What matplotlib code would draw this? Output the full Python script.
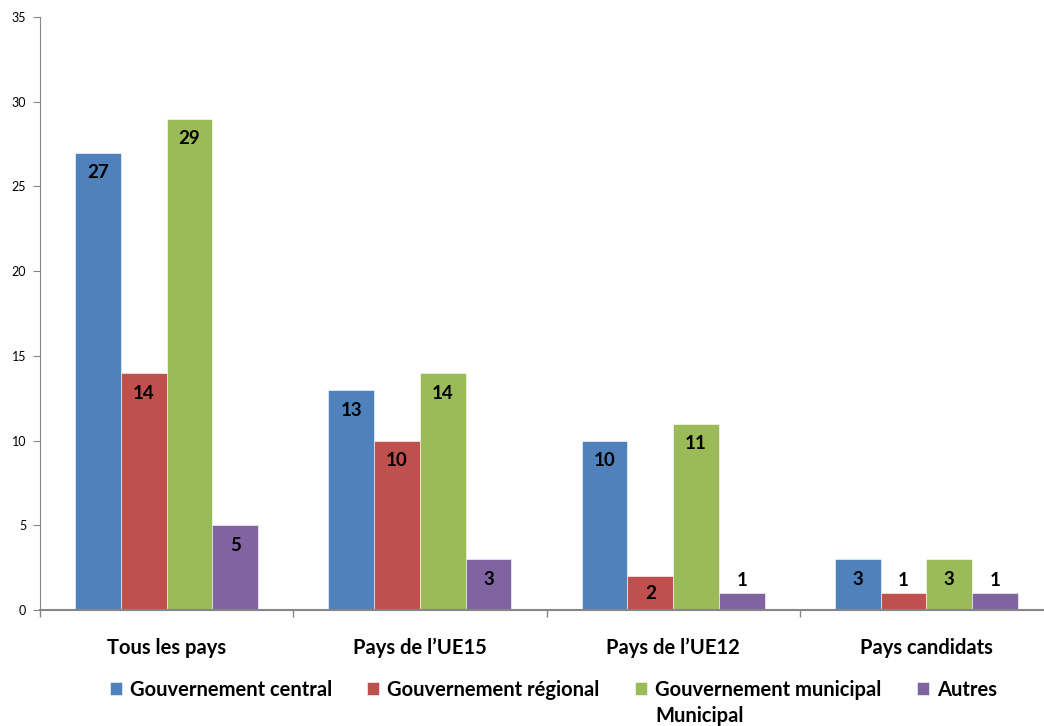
import matplotlib.pyplot as plt
import numpy as np

plt.rcParams['font.family'] = ['Lato', 'DejaVu Sans']

categories = ['Tous les pays', 'Pays de l\u2019UE15', 'Pays de l\u2019UE12', 'Pays candidats']
series_names = ['Gouvernement central', 'Gouvernement régional',
                'Gouvernement municipal', 'Autres']
central = [27, 13, 10, 3]
regional = [14, 10, 2, 1]
municipal = [29, 14, 11, 3]
autres = [5, 3, 1, 1]
colors = ['#4F81BD', '#C0504D', '#9BBB59', '#8064A2']

fig = plt.figure(figsize=(10.44, 7.26), dpi=100)
ax = fig.add_axes([40 / 1044, 116 / 726, 1013 / 1044, 593 / 726])

x = np.arange(len(categories))
w = 0.1806
handles = []
for i, (vals, col) in enumerate(zip([central, regional, municipal, autres], colors)):
    pos = x + (i - 1.5) * w
    b = ax.bar(pos, vals, width=w, color=col, edgecolor='white', linewidth=0.4)
    handles.append(b)
    for xp, v in zip(pos, vals):
        if v >= 2:
            ax.text(xp, v - 1.2 if v > 2 else v / 2, str(v), ha='center', va='center',
                    fontsize=13.5, fontweight='bold', color='black')
        else:
            ax.text(xp, v + 0.75, str(v), ha='center', va='center',
                    fontsize=13.5, fontweight='bold', color='black')

ax.set_xlim(-0.5, len(categories) - 0.5)
ax.set_ylim(0, 35)
ax.set_yticks(range(0, 36, 5))
ax.set_xticks(x)
ax.set_xticklabels(categories, fontsize=14.5, fontweight='bold')
ax.set_xticks(np.arange(-0.5, len(categories), 1), minor=True)
ax.tick_params(axis='x', which='major', length=0, pad=20)
ax.tick_params(axis='x', which='minor', length=5, color='#868686', width=1)
ax.tick_params(axis='y', length=5, color='#868686', labelsize=9, pad=5)

for side in ['top', 'right']:
    ax.spines[side].set_visible(False)
ax.spines['left'].set_color('#868686')
ax.spines['bottom'].set_color('#868686')
ax.spines['bottom'].set_linewidth(1.5)

fig.legend(handles, series_names, loc='lower center', ncol=4, frameon=False,
           bbox_to_anchor=(0.53, 0.011), prop={'size': 14.5, 'weight': 'bold'},
           handlelength=0.6, handleheight=0.6, handletextpad=0.4, columnspacing=1.75)
fig.text(655 / 1044, 10 / 726, 'Municipal', fontsize=14.5, fontweight='bold',
         va='center', ha='left')

fig.savefig('out.png', dpi=100)
